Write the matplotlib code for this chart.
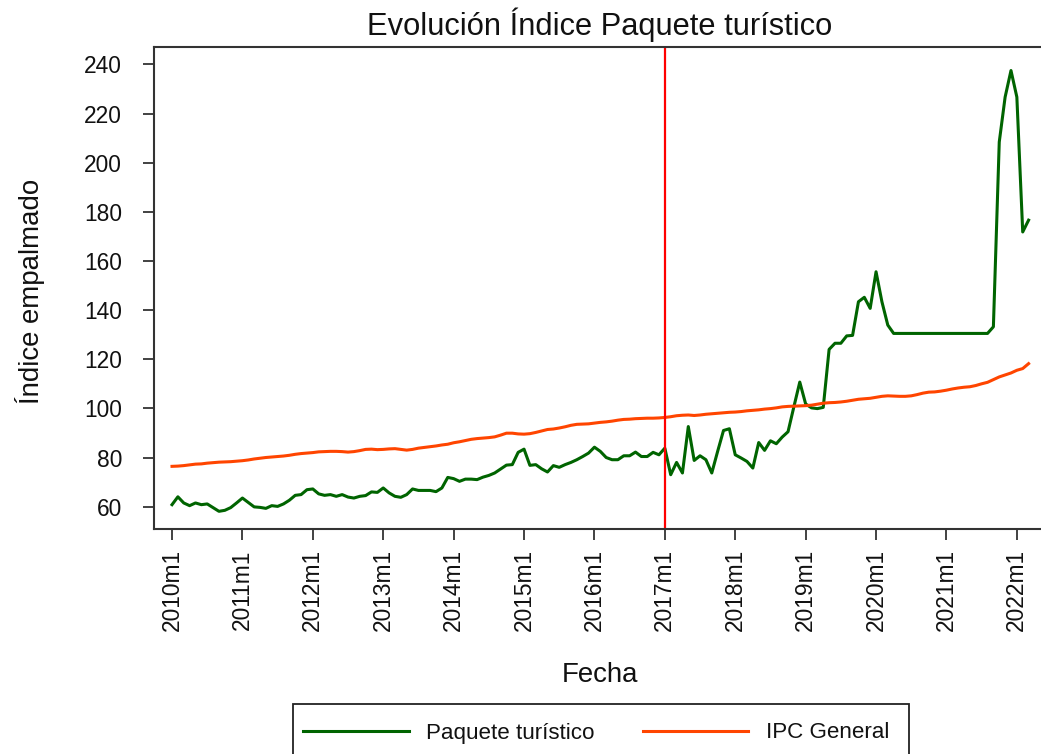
import matplotlib
matplotlib.use("Agg")
import matplotlib.pyplot as plt
from matplotlib.patches import Rectangle

plt.rcParams['font.family'] = ['Liberation Sans', 'DejaVu Sans']

# datos mensuales 2010m1 - 2022m3
paquete = [
    60.8, 64.0, 61.5, 60.4, 61.5, 60.8, 61.1, 59.6, 58.1, 58.5, 59.6, 61.5,
    63.5, 61.7, 59.9, 59.7, 59.3, 60.4, 60.1, 61.1, 62.6, 64.6, 64.9, 66.9,
    67.2, 65.2, 64.6, 64.9, 64.2, 64.9, 63.9, 63.5, 64.2, 64.5, 66.0, 65.8,
    67.6, 65.6, 64.2, 63.8, 64.9, 67.2, 66.6, 66.6, 66.6, 66.1, 67.6, 71.9,
    71.4, 70.3, 71.2, 71.2, 71.0, 72.0, 72.7, 73.7, 75.3, 76.9, 77.1, 82.1,
    83.4, 76.8, 77.1, 75.4, 74.1, 76.7, 76.0, 77.1, 78.0, 79.1, 80.4, 81.8,
    84.2, 82.5, 80.0, 79.1, 79.1, 80.7, 80.7, 82.2, 80.4, 80.4, 82.1, 81.1,
    83.8, 73.0, 78.0, 73.7, 92.6, 78.8, 80.7, 79.1, 73.7, 82.5, 91.0, 91.7,
    81.1, 79.8, 78.4, 75.7, 86.1, 82.9, 86.8, 85.6, 88.3, 90.5, 100.7, 110.7,
    101.8, 100.2, 99.9, 100.4, 124.0, 126.5, 126.5, 129.5, 129.7, 143.4, 145.2, 140.7,
    155.6, 143.4, 133.9, 130.5, 130.5, 130.5, 130.5, 130.5, 130.5, 130.5, 130.5, 130.5,
    130.5, 130.5, 130.5, 130.5, 130.5, 130.5, 130.5, 130.5, 133.2, 208.4, 226.7, 237.5,
    226.7, 171.8, 176.6,
]

ipc = [
    76.4, 76.5, 76.7, 77.0, 77.3, 77.4, 77.7, 77.9, 78.1, 78.2, 78.3, 78.5,
    78.7, 79.0, 79.4, 79.7, 80.0, 80.2, 80.4, 80.6, 80.9, 81.3, 81.6, 81.8,
    82.0, 82.3, 82.4, 82.5, 82.5, 82.4, 82.2, 82.4, 82.8, 83.3, 83.4, 83.2,
    83.3, 83.5, 83.6, 83.3, 83.0, 83.3, 83.8, 84.1, 84.4, 84.7, 85.1, 85.4,
    86.0, 86.4, 86.9, 87.4, 87.7, 87.9, 88.1, 88.4, 89.1, 89.9, 89.9, 89.6,
    89.5, 89.7, 90.2, 90.8, 91.4, 91.6, 92.0, 92.5, 93.1, 93.5, 93.6, 93.7,
    94.0, 94.3, 94.5, 94.8, 95.2, 95.5, 95.6, 95.8, 95.9, 96.0, 96.0, 96.1,
    96.3, 96.6, 97.0, 97.2, 97.3, 97.1, 97.3, 97.6, 97.8, 98.0, 98.2, 98.4,
    98.5, 98.7, 99.0, 99.2, 99.4, 99.7, 99.9, 100.2, 100.6, 100.8, 100.9, 101.0,
    101.1, 101.3, 101.7, 102.1, 102.3, 102.4, 102.6, 102.9, 103.3, 103.7, 103.9, 104.1,
    104.5, 104.9, 105.1, 105.0, 104.9, 104.9, 105.1, 105.6, 106.2, 106.6, 106.7, 107.0,
    107.4, 107.9, 108.3, 108.6, 108.8, 109.3, 110.0, 110.6, 111.7, 112.8, 113.6, 114.4,
    115.5, 116.2, 118.2,
]

anios = list(range(2010, 2023))
etiquetas = [f"{a}m1" for a in anios]
corte = 84  # 2017m1

W, H = 1041, 754
fig = plt.figure(figsize=(W / 100, H / 100), dpi=100)
ax = fig.add_axes([154 / W, 1 - 529 / H, (1046.6 - 154) / W, (529 - 46.7) / H])

meses = list(range(len(paquete)))
l1, = ax.plot(meses, paquete, color='#006400', lw=2.2, label='Paquete turístico')
l2, = ax.plot(meses, ipc, color='#ff4500', lw=2.2, label='IPC General')
ax.axvline(corte, color='#ff0000', lw=1.6)

ax.set_xlim(-3.07, 149.07)
ax.set_ylim(50.9, 247.2)
ax.set_xticks([12 * k for k in range(len(anios))])
ax.set_xticklabels(etiquetas, rotation=90)
ax.set_yticks(range(60, 241, 20))

for s in ax.spines.values():
    s.set_linewidth(1.5)
    s.set_color('#333333')
ax.tick_params(axis='both', direction='out', length=8, width=1.3,
               color='#333333', labelsize=16.4, labelcolor='#111111')
ax.tick_params(axis='x', pad=6.5)
ax.tick_params(axis='y', pad=15)

fig.text(600 / W, 1 - 25 / H, 'Evolución Índice Paquete turístico',
         ha='center', va='center', fontsize=22.2, color='#111111')
fig.text(600 / W, 1 - 675 / H, 'Fecha', ha='center', va='center',
         fontsize=19.9, color='#111111')
fig.text(30 / W, 1 - 291 / H, 'Índice empalmado', ha='center', va='center',
         rotation=90, fontsize=19.9, color='#111111')

# leyenda
fig.patches.append(Rectangle((293 / W, 1 - 762 / H), (909 - 293) / W, 58 / H,
                             transform=fig.transFigure, fill=False,
                             ec='#222222', lw=1.3))
fig.legend(handles=[l1, l2], loc='center left', ncol=2, frameon=False,
           bbox_to_anchor=(303 / W, 1 - 733 / H), borderpad=0, borderaxespad=0,
           fontsize=16.1, handlelength=4.73, handletextpad=0.79,
           columnspacing=2.13, labelcolor='#111111')

fig.savefig('out.png', dpi=100)
